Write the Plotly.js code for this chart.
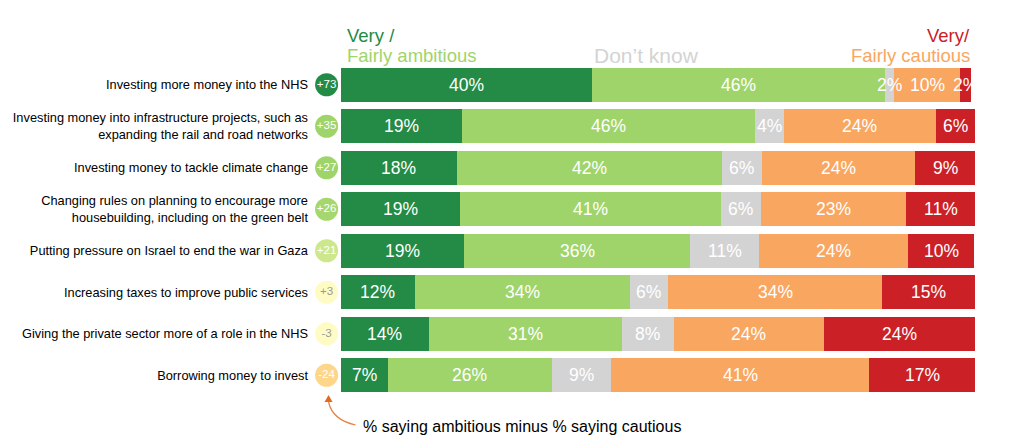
<!DOCTYPE html>
<html>
<head>
<meta charset="utf-8">
<script src="https://cdn.plot.ly/plotly-3.0.1.min.js"></script>
<style>html,body{margin:0;padding:0;background:#fff;}#chart{width:1014px;height:448px;}</style>
</head>
<body>
<div id="chart"></div>
<script>
const categories = [
  "Investing more money into the NHS",
  "Investing money into infrastructure projects, such as<br>expanding the rail and road networks",
  "Investing money to tackle climate change",
  "Changing rules on planning to encourage more<br>housebuilding, including on the green belt",
  "Putting pressure on Israel to end the war in Gaza",
  "Increasing taxes to improve public services",
  "Giving the private sector more of a role in the NHS",
  "Borrowing money to invest"
];
const veryAmbitious   = [39.6, 19.2, 18.3, 18.9, 19.5, 11.8, 13.9, 7.4];
const fairlyAmbitious = [46.2, 46.2, 41.8, 41.0, 35.6, 33.8, 30.4, 25.9];
const dontKnow        = [1.5, 4.5, 6.3, 6.4, 10.9, 6.0, 8.2, 9.4];
const fairlyCautious  = [10.4, 23.9, 24.2, 22.9, 23.5, 33.8, 23.7, 40.6];
const veryCautious    = [1.6, 6.2, 9.4, 10.8, 10.4, 14.6, 23.8, 16.7];

const veryAmbitiousLabels   = ["40%","19%","18%","19%","19%","12%","14%","7%"];
const fairlyAmbitiousLabels = ["46%","46%","42%","41%","36%","34%","31%","26%"];
const dontKnowLabels        = ["2%","4%","6%","6%","11%","6%","8%","9%"];
const fairlyCautiousLabels  = ["10%","24%","24%","23%","24%","34%","24%","41%"];
const veryCautiousLabels    = ["2%","6%","9%","11%","10%","15%","24%","17%"];

const netScores = ["+73","+35","+27","+26","+21","+3","-3","-24"];
const netColors = ["#238b45","#9fd46a","#9fd46a","#a6d76f","#cde78c","#fffbc4","#fffbc4","#fdd68a"];
const netTextColors = ["#ffffff","#ffffff","#ffffff","#ffffff","#ffffff","#9a9a9a","#9a9a9a","#ffffff"];

const FONT = "Liberation Sans, Arial, sans-serif";
const colors = ["#238b45","#9fd46a","#d3d3d3","#f9a660","#cc2027"];
const series = [veryAmbitious, fairlyAmbitious, dontKnow, fairlyCautious, veryCautious];
const labels = [veryAmbitiousLabels, fairlyAmbitiousLabels, dontKnowLabels, fairlyCautiousLabels, veryCautiousLabels];
const names = ["Very ambitious","Fairly ambitious","Don't know","Fairly cautious","Very cautious"];

const traces = series.map((vals, i) => ({
  type: "bar",
  orientation: "h",
  y: categories,
  x: vals,
  name: names[i],
  marker: {color: colors[i], line: {width: 0}},
  hoverinfo: "skip"
}));

const CIRCLE_X = -2.2;
traces.push({
  type: "scatter",
  mode: "markers+text",
  y: categories,
  x: categories.map(() => CIRCLE_X),
  text: netScores,
  textposition: "middle center",
  textfont: {family: FONT, size: 11.5, color: netTextColors},
  marker: {size: 23, color: netColors, line: {width: 0}},
  cliponaxis: false,
  hoverinfo: "skip",
  showlegend: false
});

// bar value labels placed at segment centres via data coordinates
const barLabels = [];
categories.forEach((cat, j) => {
  let cum = 0;
  series.forEach((vals, i) => {
    barLabels.push({
      xref: "x", yref: "y", x: cum + vals[j] / 2, y: cat,
      text: labels[i][j], showarrow: false,
      xanchor: "center", yanchor: "middle",
      font: {family: FONT, size: 17.5, color: "#ffffff"}
    });
    cum += vals[j];
  });
});

const XMIN = -4.5;
const UNIT = 6.34;            // pixels per percentage point
const ZERO = 341;             // pixel of 0%
const L = ZERO + XMIN * UNIT, R = ZERO + 100 * UNIT, T = 64, B = 396;
const px = x => (x - L) / (R - L);
const py = y => (B - y) / (B - T);

const arrowPath = "M" + px(356) + "," + py(425) +
  " Q" + px(333) + "," + py(420) + " " + px(329) + "," + py(402);
const headPath = "M" + px(329) + "," + py(395) + " L" + px(325) + "," + py(402) +
  " L" + px(333) + "," + py(402) + " Z";

const layout = {
  width: 1014, height: 448,
  margin: {l: L, r: 1014 - R, t: T, b: 448 - B},
  paper_bgcolor: "#ffffff",
  plot_bgcolor: "#ffffff",
  barmode: "stack",
  bargap: 0.18,
  showlegend: false,
  font: {family: FONT},
  xaxis: {range: [XMIN, 100], visible: false, fixedrange: true},
  yaxis: {
    type: "category",
    categoryorder: "array",
    categoryarray: categories,
    range: [7.5, -0.5],
    showgrid: false, zeroline: false, showline: false,
    ticks: "",
    ticklabelstandoff: 3,
    tickfont: {family: FONT, size: 12.8, color: "#000000"}
  },
  shapes: [
    {type: "path", xref: "paper", yref: "paper", path: arrowPath,
     line: {color: "#e8803f", width: 1.2}, fillcolor: "rgba(0,0,0,0)"},
    {type: "path", xref: "paper", yref: "paper", path: headPath,
     line: {color: "#e06a22", width: 0}, fillcolor: "#e06a22"}
  ],
  annotations: barLabels.concat([
    {xref: "paper", yref: "paper", x: px(345), y: py(35), xanchor: "left", yanchor: "middle",
     text: "Very /", showarrow: false, font: {family: FONT, size: 18.5, color: "#238b45"}},
    {xref: "paper", yref: "paper", x: px(345), y: py(56), xanchor: "left", yanchor: "middle",
     text: "Fairly ambitious", showarrow: false, font: {family: FONT, size: 18.5, color: "#9fd46a"}},
    {xref: "paper", yref: "paper", x: px(592), y: py(55), xanchor: "left", yanchor: "middle",
     text: "Don\u2019t know", showarrow: false, font: {family: FONT, size: 21, color: "#d3d3d3"}},
    {xref: "paper", yref: "paper", x: px(972), y: py(35), xanchor: "right", yanchor: "middle",
     text: "Very/", showarrow: false, font: {family: FONT, size: 18.5, color: "#cc2027"}},
    {xref: "paper", yref: "paper", x: px(972), y: py(56), xanchor: "right", yanchor: "middle",
     text: "Fairly cautious", showarrow: false, font: {family: FONT, size: 18.5, color: "#f9a660"}},
    {xref: "paper", yref: "paper", x: px(361), y: py(426), xanchor: "left", yanchor: "middle",
     text: "% saying ambitious minus % saying cautious", showarrow: false,
     font: {family: FONT, size: 16, color: "#000000"}}
  ])
};

Plotly.newPlot("chart", traces, layout, {displayModeBar: false, staticPlot: true});
</script>
</body>
</html>
